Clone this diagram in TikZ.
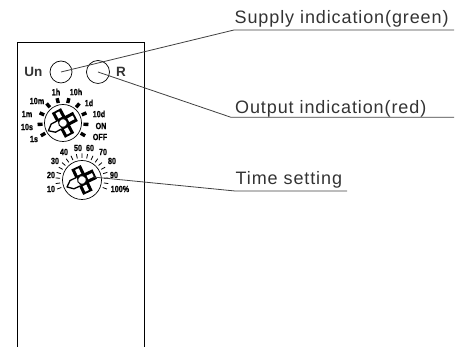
\documentclass[tikz,border=0pt]{standalone}
\usepackage{fontspec}
\setmainfont{Liberation Sans}
\newfontfamily\calloutfont[LetterSpace=5]{Liberation Sans}
\newfontfamily\dialfont[FakeStretch=0.8,FakeBold=0.6]{Liberation Sans Bold}
\usetikzlibrary{positioning,calc}

\tikzset{
    knob/.pic={
        \begin{scope}[rotate=#1]
            \fill[black] (-5.2,-5.2) -- (-5.2,-14) -- (5.2,-14) -- (5.2,-5.2) -- (14,-5.2) -- (14,5.2) -- (5.2,5.2) -- (5.2,14) -- (-5.2,14) -- (-5.2,5.2) -- cycle;
            \fill[white] (-2,-6) rectangle (2,-12);
            \fill[white] (6,-2) rectangle (12,2);
            \fill[white] (-2,6) rectangle (2,12);
            \filldraw[fill=white, draw=black, line width=1.3pt, line join=round] (-4,4.6) -- (-11,4.6) -- (-16.5,0) -- (-11,-4.6) -- (-4,-4.6);
            \filldraw[fill=white, draw=black, line width=1pt] (0,0) circle (4.4);
        \end{scope}
    }
}

\begin{document}
\begin{tikzpicture}[
    x=1pt, y=1pt,
    lamp/.style={circle, draw, line width=0.7pt, minimum size=22pt, inner sep=0pt},
    dial/.style={circle, draw, line width=0.7pt, inner sep=0pt},
    scale label/.style={font=\dialfont\fontsize{9}{10}\selectfont, inner sep=0pt},
    panel label/.style={font=\bfseries\fontsize{13.5}{15}\selectfont, inner sep=0pt, text=black!80},
    callout/.style={font=\calloutfont\fontsize{18}{20}\selectfont, inner sep=0pt, text=black!80},
    leader/.style={line width=0.8pt, black!75}
]
\useasboundingbox (0,0) rectangle (459,347);

% Panel outline
\coordinate (panelbl) at (17,0);
\coordinate (paneltl) at (17,305);
\coordinate (paneltr) at (144.5,305);
\coordinate (panelbr) at (144.5,0);
\draw[line width=0.9pt] (panelbl) -- (paneltl) -- (paneltr) -- (panelbr);

% Indicators
\node[lamp] (un) at (61,275) {};
\node[lamp, minimum size=23pt] (r) at (98,275) {};
\node[panel label, left=7pt of un] (untext) {Un};
\node[panel label, right=6pt of r] (rtext) {R};

% Range dial
\node[dial, minimum size=37pt] (range) at (63,224) {};
\foreach \a in {210,183.33,156.67,130,103.33,76.67,50,23.33,-3.33,-30}
    \draw[line width=3.4pt] ($(range)+(\a:20.5)$) -- ($(range)+(\a:25.5)$);
\pic at (range) {knob=28};
\foreach \txt/\x/\y in {1h/56/92,10h/76/92,1d/89/103,10d/99/114,ON/101/126,OFF/100/137,1s/34/139,10s/27/127,1m/27/114,10m/37/101}
    \node[scale label] (range\txt) at (\x,347-\y) {\txt};

% Time dial
\node[dial, minimum size=39pt] (time) at (82,167) {};
\foreach \a in {0,1,...,18}
    \draw[line width=0.8pt] ($(time)+(200-\a*12.22:22)$) -- ($(time)+(200-\a*12.22:26.5)$);
\pic at (time) {knob=25};
\foreach \txt/\x/\y in {10/51/189,20/51/175,30/55/161,40/64/152,50/78/148,60/90/148,70/103/152,80/112/161,90/114/175}
    \node[scale label] (time\txt) at (\x,347-\y) {\txt};
\node[scale label] (time100) at (120,347-189) {100\%};

% Callouts
\coordinate (supplybend) at (234,317);
\coordinate (supplyend) at (454,317);
\coordinate (outputbend) at (231,229.7);
\coordinate (outputend) at (454,229.7);
\coordinate (settingbend) at (235,156);
\coordinate (settingend) at (347,156);
\coordinate (knobarm) at (93,170);

\node[callout, above right=6.5pt and 0.5pt of supplybend, anchor=base west] (supply) {Supply indication(green)};
\node[callout, above right=4pt and 4pt of outputbend, anchor=base west] (output) {Output indication(red)};
\node[callout, above right=6.5pt and 0.5pt of settingbend, anchor=base west] (setting) {Time setting};

\draw[leader] (un.center) -- (supplybend) -- (supplyend);
\draw[leader] (r.center) -- (outputbend) -- (outputend);
\draw[leader] (knobarm) -- (settingbend) -- (settingend);

\end{tikzpicture}
\end{document}
